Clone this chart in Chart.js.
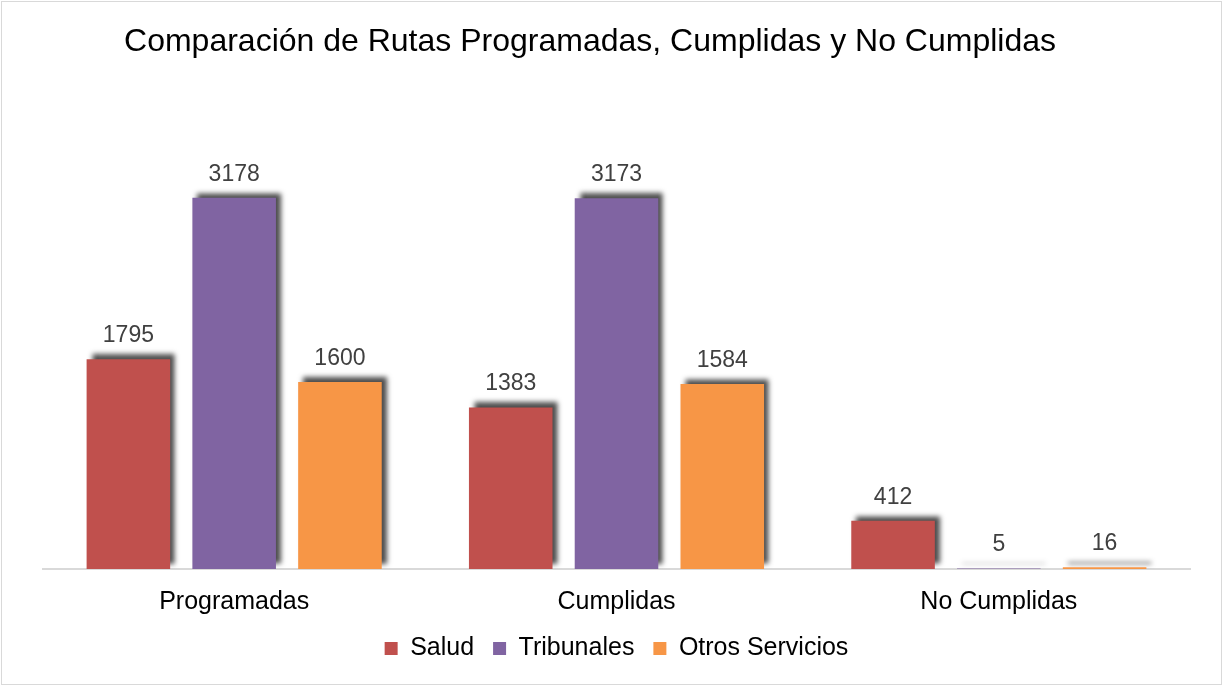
<!DOCTYPE html>
<html lang="es">
<head>
<meta charset="utf-8">
<title>Comparación de Rutas</title>
<script src="https://cdn.jsdelivr.net/npm/chart.js@4.4.0/dist/chart.umd.min.js"></script>
<style>
    html, body { margin: 0; padding: 0; background: #fff; }
    canvas { display: block; }
</style>
</head>
<body>
<canvas id="rutasChart" width="1225" height="686"></canvas>
<script>
const categories = ['Programadas', 'Cumplidas', 'No Cumplidas'];
const salud = [1795, 1383, 412];
const tribunales = [3178, 3173, 5];
const otrosServicios = [1600, 1584, 16];

const FONT = "'Liberation Sans', Arial, sans-serif";

// shadow behind the bars (up and to the right)
const barShadow = {
    id: 'barShadow',
    beforeDatasetsDraw(chart) {
        const ctx = chart.ctx;
        ctx.save();
        ctx.shadowColor = 'rgba(0,0,0,0.7)';
        ctx.shadowBlur = 5;
        ctx.shadowOffsetX = 5;
        ctx.shadowOffsetY = -5;
    },
    afterDatasetsDraw(chart) {
        chart.ctx.restore();
    }
};

// value labels, title and frame
const extras = {
    id: 'extras',
    afterDraw(chart) {
        const ctx = chart.ctx;
        ctx.save();
        ctx.font = '23px ' + FONT;
        ctx.fillStyle = '#404040';
        ctx.textAlign = 'center';
        ctx.textBaseline = 'alphabetic';
        chart.data.datasets.forEach((ds, i) => {
            chart.getDatasetMeta(i).data.forEach((bar, j) => {
                ctx.fillText(String(ds.data[j]), bar.x, bar.y - 17);
            });
        });

        ctx.font = '32px ' + FONT;
        ctx.fillStyle = '#000';
        ctx.fillText('Comparación de Rutas Programadas, Cumplidas y No Cumplidas', 590, 51);

        ctx.strokeStyle = '#d9d9d9';
        ctx.lineWidth = 1;
        ctx.strokeRect(1.5, 1.5, 1220, 683);
        ctx.restore();
    }
};

function initChart() {
    const ctx = document.getElementById('rutasChart').getContext('2d');
    new Chart(ctx, {
        type: 'bar',
        data: {
            labels: categories,
            datasets: [
                { label: 'Salud', data: salud, backgroundColor: '#C0504D' },
                { label: 'Tribunales', data: tribunales, backgroundColor: '#8064A2' },
                { label: 'Otros Servicios', data: otrosServicios, backgroundColor: '#F79646' }
            ]
        },
        options: {
            responsive: false,
            animation: false,
            devicePixelRatio: 1,
            categoryPercentage: 0.83,
            barPercentage: 0.79,
            layout: { padding: { left: 43, right: 35, top: 160, bottom: 15 } },
            plugins: {
                title: { display: false },
                tooltip: { enabled: false },
                legend: {
                    position: 'bottom',
                    labels: {
                        font: { family: FONT, size: 25 },
                        color: '#000',
                        boxWidth: 13,
                        boxHeight: 13,
                        padding: 19
                    }
                }
            },
            scales: {
                x: {
                    grid: { display: false, drawTicks: false },
                    border: { display: true, color: '#d9d9d9', width: 2 },
                    ticks: {
                        font: { family: FONT, size: 25 },
                        color: '#000',
                        padding: 18
                    },
                    afterFit(scale) { scale.height = 48; }
                },
                y: {
                    display: false,
                    min: 0,
                    max: 3500
                }
            }
        },
        plugins: [barShadow, extras]
    });
}

document.addEventListener('DOMContentLoaded', initChart);
</script>
</body>
</html>
